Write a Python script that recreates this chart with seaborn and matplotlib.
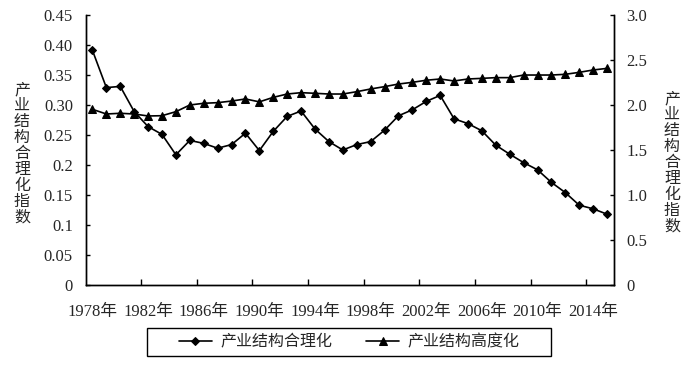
import seaborn as sns
import matplotlib.pyplot as plt
import pandas as pd

sns.set_style("ticks")
plt.rcParams['font.family'] = ['Liberation Serif', 'Noto Sans CJK SC']

# data
years = list(range(1978, 2016))
rational = [0.391, 0.329, 0.331, 0.289, 0.264, 0.251, 0.217, 0.241, 0.236, 0.228,
            0.234, 0.253, 0.224, 0.256, 0.281, 0.290, 0.260, 0.239, 0.225, 0.234,
            0.239, 0.258, 0.282, 0.292, 0.306, 0.316, 0.277, 0.269, 0.257, 0.233,
            0.218, 0.204, 0.192, 0.171, 0.154, 0.133, 0.127, 0.118]
advanced = [1.952, 1.900, 1.908, 1.900, 1.878, 1.881, 1.926, 2.000, 2.019, 2.026,
            2.044, 2.067, 2.035, 2.085, 2.122, 2.137, 2.130, 2.122, 2.122, 2.148,
            2.178, 2.204, 2.233, 2.252, 2.275, 2.289, 2.267, 2.289, 2.296, 2.304,
            2.304, 2.333, 2.333, 2.333, 2.341, 2.363, 2.389, 2.407]
series_names = ['产业结构合理化', '产业结构高度化']
axis_title = '产业结构合理化指数'
left_ticks = [0, 0.05, 0.1, 0.15, 0.2, 0.25, 0.3, 0.35, 0.4, 0.45]
left_labels = ['0', '0.05', '0.1', '0.15', '0.2', '0.25', '0.30', '0.35', '0.40', '0.45']
right_ticks = [0, 0.5, 1.0, 1.5, 2.0, 2.5, 3.0]
right_labels = ['0', '0.5', '1.0', '1.5', '2.0', '2.5', '3.0']

df = pd.DataFrame({'idx': range(len(years)), 'year': years,
                   'rational': rational, 'advanced': advanced})

fig = plt.figure(figsize=(7, 3.65), dpi=100)
ax = fig.add_axes([85.5 / 700, 1 - 285 / 365, (614 - 85.5) / 700, 270 / 365])
ax2 = ax.twinx()

sns.lineplot(data=df, x='idx', y='rational', ax=ax, color='black', marker='D',
             markersize=4.5, markeredgecolor='black', linewidth=1.2, legend=False)
sns.lineplot(data=df, x='idx', y='advanced', ax=ax2, color='black', marker='^',
             markersize=6, markeredgecolor='black', linewidth=1.2, legend=False)

ax.set_xlim(-0.5, len(years) - 0.5)
ax.set_ylim(0, 0.45)
ax2.set_ylim(0, 3.0)

# category labels every 4 years, tick marks between the groups
pos = list(range(0, len(years), 4))
ax.set_xticks(pos)
ax.set_xticklabels([f'{years[i]}年' for i in pos], fontsize=12)
ax.set_xticks([p - 0.5 for p in pos[1:]], minor=True)
ax.tick_params(axis='x', which='major', length=0, pad=14)
ax.tick_params(axis='x', which='minor', direction='in', length=4, width=1, color='black')

ax.set_yticks(left_ticks)
ax.set_yticklabels(left_labels, fontsize=12)
ax.tick_params(axis='y', direction='in', length=3, width=1, pad=9, color='black')
ax2.set_yticks(right_ticks)
ax2.set_yticklabels(right_labels, fontsize=12)
ax2.tick_params(axis='y', direction='in', length=3, width=1, pad=9, color='black')

for a in (ax, ax2):
    a.set_xlabel('')
    a.set_ylabel('')
    a.spines['top'].set_visible(False)
    for s in a.spines.values():
        s.set_color('black')
        s.set_linewidth(1.0)

fig.text(22 / 700, 1 - 153.5 / 365, '\n'.join(axis_title), ha='center', va='center',
         fontsize=11.5, linespacing=0.92, family='Noto Sans CJK SC')
fig.text(672 / 700, 1 - 162.5 / 365, '\n'.join(axis_title), ha='center', va='center',
         fontsize=11.5, linespacing=0.92, family='Noto Sans CJK SC')

handles = [ax.get_lines()[0], ax2.get_lines()[0]]
fig.legend(handles, series_names, loc='center', bbox_to_anchor=(349 / 700, 1 - 342 / 365),
           ncol=2, frameon=False, prop={'family': 'Noto Sans CJK SC', 'size': 11.5},
           handlelength=2.1, columnspacing=2.1, handletextpad=0.5)
# legend box is wider than the entries, as in the source chart
fig.add_artist(plt.Rectangle((147 / 700, 1 - 356 / 365), 404 / 700, 28 / 365,
                             transform=fig.transFigure, fill=False,
                             edgecolor='black', linewidth=1.0))

fig.savefig('out.png', dpi=100)
